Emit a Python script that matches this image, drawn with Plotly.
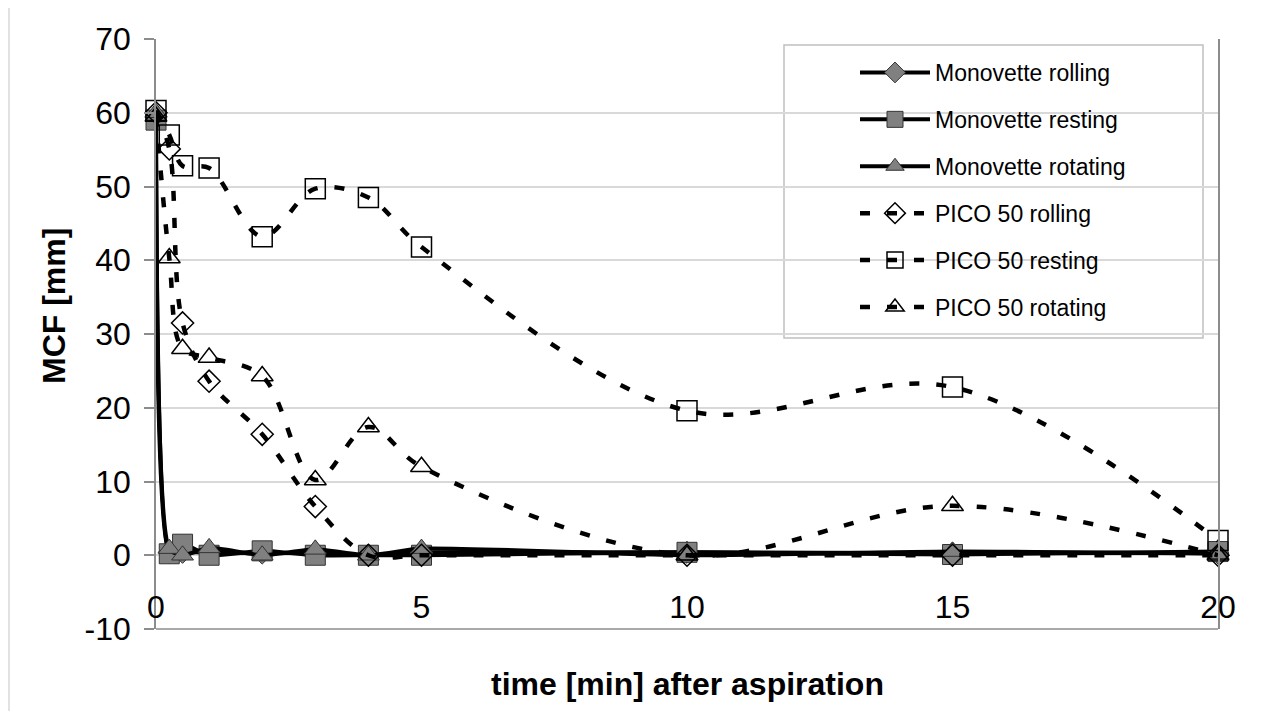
import plotly.graph_objects as go

# ---- data ----
time_min = [0, 0.25, 0.5, 1, 2, 3, 4, 5, 10, 15, 20]
mono_rolling = [59.5, 0.4, 0.4, 0.4, 0.3, 0.3, 0.0, 0.4, 0.4, 0.3, 0.3]
mono_resting = [59.0, 0.2, 1.5, 0.0, 0.6, 0.0, 0.0, 0.0, 0.4, 0.1, 0.5]
mono_rotating = [60.0, 0.9, 0.0, 1.0, 0.0, 0.8, 0.0, 0.9, 0.0, 0.5, 0.2]
pico_rolling = [60.0, 55.1, 31.5, 23.6, 16.4, 6.6, 0.0, 0.0, 0.0, 0.0, 0.0]
pico_resting = [60.3, 57.0, 52.8, 52.5, 43.2, 49.7, 48.5, 41.8, 19.6, 22.8, 2.0]
pico_rotating = [59.5, 40.3, 28.0, 26.8, 24.3, 10.2, 17.4, 12.0, 0.0, 6.7, 0.0]

series_names = ["Monovette rolling", "Monovette resting", "Monovette rotating",
                "PICO 50 rolling", "PICO 50 resting", "PICO 50 rotating"]
x_ticks = [0, 5, 10, 15, 20]
y_ticks = [-10, 0, 10, 20, 30, 40, 50, 60, 70]

# the page adds an 8px body margin; work in page pixels and convert
OFF = 8
W, H = 1279 - OFF, 711 - OFF
L, R, T, B = 156, 1218, 39, 629   # plot area in page pixels
pw, ph = R - L, B - T

def px(xp):
    return (xp - L) / pw

def py(yp):
    return (B - yp) / ph

FONT = "Liberation Sans, Arial, sans-serif"
GRAY = "#808080"

fig = go.Figure()

mono_specs = [
    (series_names[0], mono_rolling, "diamond", 17),
    (series_names[1], mono_resting, "square", 20),
    (series_names[2], mono_rotating, "triangle-up", 19),
]
for name, vals, sym, size in mono_specs:
    fig.add_trace(go.Scatter(
        x=time_min, y=vals, name=name, legendgroup=name,
        mode="lines+markers", cliponaxis=False,
        line=dict(color="black", width=4, shape="spline", smoothing=0.6),
        marker=dict(symbol=sym, size=size, color=GRAY,
                    line=dict(color="#333333", width=1)),
    ))

pico_specs = [
    (series_names[3], pico_rolling, "diamond-open", 17),
    (series_names[4], pico_resting, "square-open", 20),
    (series_names[5], pico_rotating, "triangle-up-open", 19),
]
for name, vals, sym, size in pico_specs:
    fig.add_trace(go.Scatter(
        x=time_min, y=vals, name=name, legendgroup=name,
        mode="lines+markers", cliponaxis=False,
        line=dict(color="black", width=4.5, shape="spline", smoothing=1.0,
                  dash="10px,17px"),
        marker=dict(symbol=sym, size=size, color="black",
                    line=dict(color="black", width=1.5)),
    ))

fig.update_layout(
    width=W, height=H,
    margin=dict(l=L - OFF, r=W - (R - OFF), t=T - OFF, b=H - (B - OFF),
                autoexpand=False),
    paper_bgcolor="white", plot_bgcolor="white",
    font=dict(family=FONT, color="black", size=23),
    showlegend=True,
    legend=dict(
        x=px(855), y=py(51), xanchor="left", yanchor="top",
        bgcolor="rgba(0,0,0,0)", borderwidth=0,
        font=dict(family=FONT, size=23, color="black"),
        itemwidth=70, tracegroupgap=14,
    ),
    xaxis=dict(
        range=[0, 20], tickvals=x_ticks, ticktext=[str(v) for v in x_ticks],
        showgrid=False, zeroline=False, showline=False, ticks="",
        anchor="free", position=10 / 80,
        tickfont=dict(family=FONT, size=32, color="black"),
        ticklabelstandoff=30,
    ),
    yaxis=dict(
        range=[-10, 70], tickvals=y_ticks, ticktext=[str(v) for v in y_ticks],
        showgrid=True, gridcolor="#d9d9d9", gridwidth=1.5,
        zeroline=False, showline=True, linecolor="#8c8c8c", linewidth=1.5,
        mirror=True, ticks="outside", ticklen=10, tickcolor="#8c8c8c",
        tickwidth=1.5,
        tickfont=dict(family=FONT, size=32, color="black"),
        ticklabelstandoff=7,
    ),
    shapes=[
        # outer chart border
        dict(type="rect", xref="paper", yref="paper",
             x0=px(9), x1=px(1277), y0=py(720), y1=py(4),
             line=dict(color="#d9d9d9", width=1.5), layer="below"),
        # bottom border of the plot area
        dict(type="line", xref="paper", yref="paper",
             x0=0, x1=1, y0=0, y1=0,
             line=dict(color="#8c8c8c", width=1.5), layer="below"),
        # legend box
        dict(type="rect", xref="paper", yref="paper",
             x0=px(784), x1=px(1203), y0=py(338), y1=py(45),
             fillcolor="white", line=dict(color="#c0c0c0", width=1.5),
             layer="between"),
    ],
    annotations=[
        dict(text="<b>time [min] after aspiration</b>", xref="paper", yref="paper",
             x=0.5, y=py(684), xanchor="center", yanchor="middle",
             showarrow=False, font=dict(family=FONT, size=32, color="black")),
        dict(text="<b>MCF [mm]</b>", xref="paper", yref="paper",
             x=px(54), y=py(306), xanchor="center", yanchor="middle",
             textangle=-90, showarrow=False,
             font=dict(family=FONT, size=32, color="black")),
    ],
)

fig.write_html("out.html")
